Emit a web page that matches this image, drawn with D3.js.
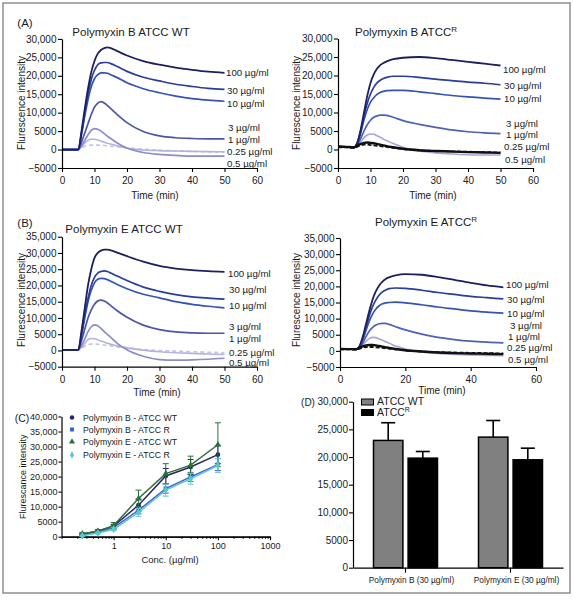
<!DOCTYPE html>
<html><head><meta charset="utf-8">
<script src="https://cdn.jsdelivr.net/npm/d3@7"></script>
<style>body{margin:0;background:#fff}</style></head>
<body><svg id="c" width="573" height="600"></svg>
<script>
// ---------- DATA (fluorescence values in thousands) ----------
const times = [0,2.5,5,6,7,8,9,10,11,12,13,14,15,17,20,25,30,35,40,45,50];
const concLabels = ["100 µg/ml","30 µg/ml","10 µg/ml","3 µg/ml","1 µg/ml","0.25 µg/ml","0.5 µg/ml"];
const xTicks60 = [0,10,20,30,40,50,60];
const xTicks60b = [0,20,40,60];
const yTicksA = [-5,0,5,10,15,20,25,30];
const yTicksB = [-5,0,5,10,15,20,25,30,35];

// Polymyxin B, ATCC WT
const pbWT_100 = [0,0,0,5,11,16.5,21,24,26,27,27.5,27.7,27.5,26.7,25.5,24,23,22.2,21.6,21.1,20.8];
const pbWT_30  = [0,0,0,4.5,10,15,19,21.5,23,23.5,23.6,23.6,23.3,22.5,21.2,19.6,18.6,17.7,17.1,16.6,16.3];
const pbWT_10  = [0,0,0,4,9,13.5,17,19.2,20.3,20.8,20.8,20.7,20.3,19.5,18.1,16.5,15.4,14.5,13.8,13.4,13.1];
const pbWT_3   = [0,0,0,2,4.5,7,9.5,11.5,12.6,13,12.6,11.9,11.1,9.5,7.3,4.9,3.7,3.2,3.0,2.9,2.9];
const pbWT_1   = [0,0,0,1,2.5,4,5.2,5.7,5.5,5,4.3,3.6,3,1.8,0.4,-0.8,-1.3,-1.6,-1.8,-1.8,-1.8];
const pbWT_05  = [0,0,0,0.8,1.8,2.5,2.8,2.8,2.6,2.3,2.0,1.7,1.5,1.0,0.4,-0.1,-0.3,-0.4,-0.5,-0.55,-0.6];
const pbWT_025 = [0,0,0,0.4,0.9,1.1,1.2,1.2,1.2,1.15,1.1,1.0,0.9,0.75,0.5,0.1,-0.2,-0.35,-0.5,-0.6,-0.7];

// Polymyxin B, ATCC R
const pbR_100 = [0.8,0.7,0.6,2,5.5,10,14.5,18,20.3,21.8,22.8,23.4,23.8,24.4,24.8,25,24.7,24.2,23.7,23.2,22.7];
const pbR_30  = [0.8,0.7,0.6,2,5,9,12.5,15,16.8,18,18.7,19.2,19.5,19.8,19.8,19.5,19,18.6,18.2,17.9,17.5];
const pbR_10  = [0.8,0.7,0.6,1.7,4.5,8,10.8,12.8,14,14.9,15.4,15.7,15.9,16,16,15.6,15.1,14.6,14.2,13.9,13.6];
const pbR_3   = [0.8,0.7,0.6,1.3,3,5,6.7,7.9,8.7,9.1,9.3,9.3,9.2,8.7,7.8,6.8,6,5.3,4.8,4.5,4.3];
const pbR_1   = [0.8,0.7,0.6,0.9,2,3.2,3.9,4.2,4.1,3.7,3.3,2.8,2.4,1.6,0.6,-0.4,-0.9,-1.2,-1.4,-1.5,-1.5];
const pbR_05  = [0.8,0.7,0.6,1.1,1.5,1.8,1.9,1.8,1.7,1.5,1.3,1.1,0.9,0.6,0.2,-0.2,-0.4,-0.55,-0.7,-0.8,-0.9];
const pbR_025 = [0.6,0.55,0.5,0.8,1.1,1.3,1.3,1.2,1.1,1.0,0.9,0.8,0.7,0.45,0.1,-0.2,-0.4,-0.5,-0.6,-0.7,-0.8];

// Polymyxin E, ATCC WT
const peWT_100 = [0.2,0.2,0.2,6,13,20,25,28.5,30,30.7,31,31,30.8,30.1,29,27.3,26,25.2,24.7,24.4,24.2];
const peWT_30  = [0.2,0.2,0.2,5,11,16,20,22.5,23.8,24.3,24.5,24.3,23.8,22.9,21.5,19.5,18.2,17.2,16.5,16.1,15.8];
const peWT_10  = [0.2,0.2,0.2,4.5,10,15,18.5,20.8,21.9,22.2,22.1,21.8,21.3,20.3,19,17.3,16.2,15,14.2,13.6,13.1];
const peWT_3   = [0.2,0.2,0.2,3,6.5,10,12.5,14.2,15.2,15.5,15.2,14.6,13.8,12.2,10.2,7.8,6.4,5.7,5.4,5.3,5.3];
const peWT_1   = [0.2,0.2,0.2,1.5,3.5,5.8,7.3,7.9,7.6,6.8,5.8,4.9,4,2.2,0.2,-1.8,-2.8,-3,-2.9,-2.7,-2.4];
const peWT_05  = [0.2,0.2,0.2,1,2.2,3.3,3.7,3.6,3.3,2.9,2.6,2.2,1.9,1.4,0.8,0.1,-0.4,-0.7,-0.9,-1.1,-1.2];
const peWT_025 = [0.2,0.2,0.2,0.6,1.3,1.8,2,2,1.9,1.8,1.7,1.55,1.4,1.1,0.8,0.3,0,-0.2,-0.4,-0.55,-0.7];

// Polymyxin E, ATCC R
const peR_100 = [0.6,0.55,0.5,1.5,4.5,8.5,12.5,16,18.5,20.3,21.5,22.3,22.8,23.4,23.8,23.6,22.9,22,21.1,20.3,19.7];
const peR_30  = [0.6,0.55,0.5,1.4,4,7.5,11,13.8,15.8,17.3,18.3,18.9,19.3,19.5,19.4,18.8,18.1,17.5,16.9,16.5,16.1];
const peR_10  = [0.6,0.55,0.5,1.2,3.5,6.5,9.3,11.5,13,14,14.6,14.9,15.0,15.1,14.9,14.3,13.6,13,12.4,12,11.7];
const peR_3   = [0.6,0.55,0.5,1,2.5,4.5,6.2,7.3,8,8.4,8.5,8.5,8.2,7.5,6.5,5.2,4.2,3.5,3,2.7,2.5];
const peR_1   = [0.6,0.55,0.5,0.8,1.8,3,3.8,4.2,4.1,3.7,3.3,2.8,2.4,1.5,0.6,-0.3,-0.8,-1.1,-1.3,-1.4,-1.5];
const peR_05  = [0.6,0.55,0.5,1,1.4,1.7,1.8,1.8,1.7,1.5,1.3,1.1,0.9,0.6,0.2,-0.2,-0.5,-0.7,-0.8,-0.9,-1.0];
const peR_025 = [0.5,0.45,0.4,0.7,1,1.2,1.2,1.2,1.1,1,0.9,0.8,0.7,0.45,0.1,-0.2,-0.4,-0.5,-0.6,-0.7,-0.8];

// Panel C: dose response
const cConc = [0.25,0.5,1,3,10,30,100];
const cNames = ["Polymyxin B - ATCC WT","Polymyxin B - ATCC R","Polymyxin E - ATCC WT","Polymyxin E - ATCC R"];
const cPbWT = [0.8,1.9,3.5,10.5,20.2,23.2,27.3];
const cPbR  = [0.5,1.5,3.0,8.8,16.0,19.9,24.0];
const cPeWT = [1.0,1.8,3.7,12.7,21.0,23.8,30.6];
const cPeR  = [0.3,1.2,2.5,8.1,15.5,19.3,23.7];
const cPbWTsd = [0.3,0.4,0.6,2.0,2.5,2.5,3.0];
const cPbRsd  = [0.2,0.3,0.5,1.2,1.5,1.5,2.0];
const cPeWTsd = [0.3,0.5,1.0,2.8,3.3,3.0,7.3];
const cPeRsd  = [0.2,0.3,0.5,1.3,2.0,1.8,2.3];
const cYTicks = [0,5,10,15,20,25,30,35,40];
const cXTicks = [1,10,100,1000];

// Panel D: bars at 30 µg/ml
const dGroups = ["Polymyxin B (30 µg/ml)","Polymyxin E (30 µg/ml)"];
const dStrains = ["ATCC WT","ATCCR"];
const dWT = [23.0,23.6];
const dWTerr = [3.2,3.0];
const dR = [19.8,19.5];
const dRerr = [1.2,2.1];
const dYTicks = [0,5,10,15,20,25,30];

// ---------- DRAWING ----------
const FONT = "'Liberation Sans', Arial, Helvetica, sans-serif";
const svg = d3.select("#c").style("font-family", FONT);
svg.append("rect").attr("width",573).attr("height",600).attr("fill","#fff");
svg.append("rect").attr("x",3).attr("y",3).attr("width",567).attr("height",590)
   .attr("fill","none").attr("stroke","#8f8f8f").attr("stroke-width",1.5);

const fmtK = v => { const n = v*1000; return Math.abs(n) >= 10000 ? d3.format(",")(n) : d3.format("d")(n); };

function styleAxis(g, fs) {
  g.selectAll("path.domain").attr("stroke","#000").attr("stroke-width",1.2);
  g.selectAll(".tick line").attr("stroke","#000").attr("stroke-width",1.1);
  g.selectAll("text").attr("font-family",FONT).attr("font-size",fs).attr("fill","#1a1a1a");
}

function text(x, y, s, fs, anchor, rot) {
  const t = svg.append("text").attr("x",x).attr("y",y).attr("dy","0.35em")
    .attr("font-size",fs).attr("text-anchor",anchor||"middle").attr("fill","#1a1a1a").text(s);
  if (rot) t.attr("transform",`rotate(${rot},${x},${y})`);
  return t;
}
function titleR(x, y, s) {
  const t = svg.append("text").attr("x",x).attr("y",y).attr("dy","0.35em").attr("font-size",11.5)
    .attr("text-anchor","middle").attr("fill","#1a1a1a");
  t.append("tspan").text(s);
  t.append("tspan").attr("dy",-4).attr("font-size",8).text("R");
}

const WTstyle = [
  {c:"#c3c3e6", w:1.6, dash:"4,3"}, // 0.25
  {c:"#b3b3dd", w:1.6},             // 0.5
  {c:"#8b8dcb", w:1.7},             // 1
  {c:"#4b56a8", w:1.7},             // 3
  {c:"#3553b5", w:1.7},             // 10
  {c:"#2a3c9c", w:1.7},             // 30
  {c:"#1d1f5e", w:1.8}              // 100
];
const Rstyle = [
  {c:"#a5a5d8", w:1.6},             // 1
  {c:"#5060b5", w:1.7},             // 3
  {c:"#3553b5", w:1.7},             // 10
  {c:"#2a3c9c", w:1.7},             // 30
  {c:"#1d1f5e", w:1.8},             // 100
  {c:"#111", w:2.4},                // 0.5
  {c:"#111", w:1.8, dash:"4,2"}     // 0.25
];

function timePanel(p) {
  const x = d3.scaleLinear().domain([0,60]).range(p.xr);
  const y = d3.scaleLinear().domain(p.yd).range(p.yr);
  const line = d3.line().x((d,i)=>x(times[i])).y(d=>y(d)).curve(d3.curveMonotoneX);
  p.series.forEach((v,i) => {
    const s = p.styles[i];
    svg.append("path").attr("d", line(v)).attr("fill","none").attr("stroke",s.c)
      .attr("stroke-width",s.w).attr("stroke-dasharray",s.dash||null).attr("stroke-linejoin","round");
  });
  const gx = svg.append("g").attr("transform",`translate(0,${p.yr[0]})`)
    .call(d3.axisBottom(x).tickValues(p.xticks).tickSize(4).tickSizeOuter(0).tickPadding(5));
  styleAxis(gx, 10);
  const gy = svg.append("g").attr("transform",`translate(${p.xr[0]},0)`)
    .call(d3.axisLeft(y).tickValues(p.yticks).tickFormat(fmtK).tickSize(4).tickSizeOuter(0).tickPadding(1.5));
  styleAxis(gy, 10);
  text(p.ylab[0], p.ylab[1], "Flurescence intensity", 10, "middle", -90);
  text(p.tlab[0], p.tlab[1], "Time (min)", 10);
  concLabels.forEach((s,i) => text(p.lab[i][0], p.lab[i][1], s, 9.7, "start"));
}

// (A) left
text(25, 23, "(A)", 11.5);
text(131, 32, "Polymyxin B ATCC WT", 11.5);
timePanel({xr:[62,257], yd:[-5,30], yr:[168,38.9], xticks:xTicks60, yticks:yTicksA,
  series:[pbWT_025,pbWT_05,pbWT_1,pbWT_3,pbWT_10,pbWT_30,pbWT_100], styles:WTstyle,
  ylab:[21,103], tlab:[155,195],
  lab:[[226,73],[227,90.5],[227,104],[228,128],[228,140],[227,152],[227,163.5]]});

// (A) right
titleR(406, 32, "Polymyxin B ATCC");
timePanel({xr:[338,533], yd:[-5,30], yr:[168,38.5], xticks:xTicks60, yticks:yTicksA,
  series:[pbR_1,pbR_3,pbR_10,pbR_30,pbR_100,pbR_05,pbR_025], styles:Rstyle,
  ylab:[296,103], tlab:[433,195],
  lab:[[503,70],[504,86],[504,98.5],[506,124],[506,135],[504,146.5],[505,159.5]]});

// (B) left
text(25, 223, "(B)", 11.5);
text(124, 228.5, "Polymyxin E ATCC WT", 11.5);
timePanel({xr:[62,257], yd:[-5,35], yr:[366.7,236.7], xticks:xTicks60, yticks:yTicksB,
  series:[peWT_025,peWT_05,peWT_1,peWT_3,peWT_10,peWT_30,peWT_100], styles:WTstyle,
  ylab:[21,300], tlab:[157,392],
  lab:[[228,273.5],[229,290],[229,305.5],[229,326.5],[229,338.5],[229,352.5],[229,363]]});

// (B) right
titleR(426, 222, "Polymyxin E ATCC");
timePanel({xr:[340,536], yd:[-5,35], yr:[367,238], xticks:xTicks60b, yticks:yTicksB,
  series:[peR_1,peR_3,peR_10,peR_30,peR_100,peR_05,peR_025], styles:Rstyle,
  ylab:[296,300], tlab:[442,390],
  lab:[[506,284.5],[507,299.5],[507,314],[510,326],[508,336.5],[507,347.5],[508,360]]});

// (C) dose response
(function(){
  const x = d3.scaleLog().domain([0.1,1000]).range([61.5,270]);
  const y = d3.scaleLinear().domain([0,40]).range([536.7,416.5]);
  const minor = [];
  [0.1,1,10,100].forEach(b => { for (let k=2;k<=9;k++) minor.push(b*k); });
  const gm = svg.append("g").attr("transform","translate(0,536.7)")
    .call(d3.axisBottom(x).tickValues(minor).tickSize(2).tickFormat(""));
  styleAxis(gm, 9);
  const gx = svg.append("g").attr("transform","translate(0,536.7)")
    .call(d3.axisBottom(x).tickValues(cXTicks).tickSize(3.5).tickSizeOuter(0).tickPadding(2).tickFormat(d3.format("d")));
  styleAxis(gx, 9);
  const gy = svg.append("g").attr("transform","translate(61.5,0)")
    .call(d3.axisLeft(y).tickValues(cYTicks).tickFormat(fmtK).tickSize(3).tickSizeOuter(0).tickPadding(1));
  styleAxis(gy, 9);
  text(22.5, 476.7, "Flurescance intensity", 9, "middle", -90);
  text(170, 560, "Conc. (µg/ml)", 9.5);
  text(22, 418, "(C)", 10.5);

  const series = [
    {v:cPbWT, e:cPbWTsd, c:"#2b2566", sym:d3.symbolCircle},
    {v:cPbR,  e:cPbRsd,  c:"#3d5fd0", sym:d3.symbolSquare},
    {v:cPeWT, e:cPeWTsd, c:"#2f6e3f", sym:d3.symbolTriangle},
    {v:cPeR,  e:cPeRsd,  c:"#5cc8cc", sym:d3.symbolDiamond}
  ];
  const line = d3.line().x((d,i)=>x(cConc[i])).y(d=>y(d));
  series.forEach(s => {
    s.v.forEach((d,i) => {
      const cx = x(cConc[i]);
      const g = svg.append("g").attr("stroke",s.c).attr("stroke-width",1);
      g.append("line").attr("x1",cx).attr("x2",cx).attr("y1",y(d-s.e[i])).attr("y2",y(d+s.e[i]));
      g.append("line").attr("x1",cx-3).attr("x2",cx+3).attr("y1",y(d+s.e[i])).attr("y2",y(d+s.e[i]));
      g.append("line").attr("x1",cx-3).attr("x2",cx+3).attr("y1",y(d-s.e[i])).attr("y2",y(d-s.e[i]));
    });
    svg.append("path").attr("d",line(s.v)).attr("fill","none").attr("stroke",s.c).attr("stroke-width",1.5);
    s.v.forEach((d,i) => svg.append("path").attr("d",d3.symbol().type(s.sym).size(18)())
      .attr("transform",`translate(${x(cConc[i])},${y(d)})`).attr("fill",s.c));
  });
  const ly = [417.5,429.5,441.7,455];
  series.forEach((s,i) => {
    svg.append("path").attr("d",d3.symbol().type(s.sym).size(16)())
      .attr("transform",`translate(72,${ly[i]})`).attr("fill",s.c);
    text(83, ly[i], cNames[i], 8.7, "start");
  });
})();

// (D) bar chart
(function(){
  const x0 = d3.scaleBand().domain(dGroups).range([353,563]);
  const x1 = d3.scaleBand().domain(dStrains).range([-32,32]).paddingInner(0.15);
  const y = d3.scaleLinear().domain([0,30]).range([567.7,401.7]);
  const cols = {"ATCC WT":"#808080","ATCCR":"#000"};
  dGroups.forEach((g,gi) => {
    const cx = x0(g) + x0.bandwidth()/2;
    [[dStrains[0],dWT[gi],dWTerr[gi]],[dStrains[1],dR[gi],dRerr[gi]]].forEach(([st,v,e]) => {
      const bx = cx + x1(st), bw = x1.bandwidth();
      const mx = bx + bw/2;
      svg.append("line").attr("x1",mx).attr("x2",mx).attr("y1",y(v)).attr("y2",y(v+e)).attr("stroke","#000").attr("stroke-width",1.6);
      svg.append("line").attr("x1",mx-7).attr("x2",mx+7).attr("y1",y(v+e)).attr("y2",y(v+e)).attr("stroke","#000").attr("stroke-width",1.6);
      svg.append("rect").attr("x",bx).attr("y",y(v)).attr("width",bw).attr("height",y(0)-y(v))
        .attr("fill",cols[st]).attr("stroke","#000").attr("stroke-width",1.5);
    });
  });
  const gx = svg.append("g").attr("transform","translate(0,567.7)")
    .call(d3.axisBottom(x0).tickSize(5).tickSizeOuter(0).tickPadding(4));
  styleAxis(gx, 8.3);
  gx.selectAll(".tick text").attr("dx",6);
  const gy = svg.append("g").attr("transform","translate(353,0)")
    .call(d3.axisLeft(y).tickValues(dYTicks).tickFormat(fmtK).tickSize(4).tickSizeOuter(0).tickPadding(1));
  styleAxis(gy, 10);
  text(308, 402, "(D)", 10);
  // legend
  svg.append("rect").attr("x",361.5).attr("y",399).attr("width",12).attr("height",6).attr("fill","#808080").attr("stroke","#000").attr("stroke-width",1);
  text(377, 401.5, "ATCC WT", 10.5, "start");
  svg.append("rect").attr("x",361.5).attr("y",409.5).attr("width",12).attr("height",6).attr("fill","#000").attr("stroke","#000").attr("stroke-width",1);
  const t = svg.append("text").attr("x",377).attr("y",412.5).attr("dy","0.35em").attr("font-size",10.5).attr("fill","#1a1a1a");
  t.append("tspan").text("ATCC");
  t.append("tspan").attr("dy",-4).attr("font-size",7).text("R");
})();
</script></body></html>
